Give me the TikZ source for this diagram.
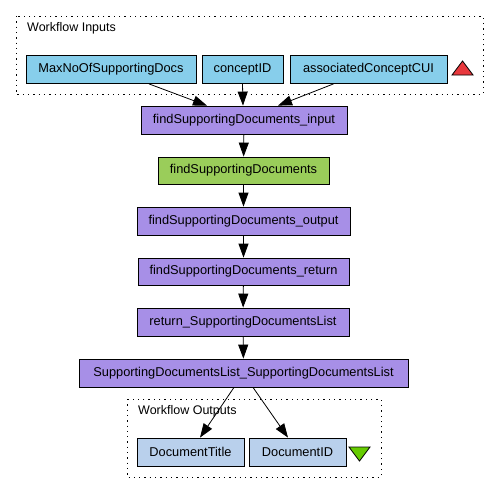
\documentclass[tikz,border=0pt]{standalone}
\usepackage{fontspec}
\setmainfont{Liberation Sans}
\usetikzlibrary{arrows.meta}
\definecolor{inblue}{HTML}{87CEEB}
\definecolor{outblue}{HTML}{B9D0EC}
\definecolor{procpurple}{HTML}{A78FE7}
\definecolor{procgreen}{HTML}{9ACD5A}
\definecolor{trired}{HTML}{E8383D}
\definecolor{trigreen}{HTML}{66CC00}
\tikzset{
  box/.style={draw=black, line width=0.8pt, minimum height=28pt, inner sep=0pt,
    font=\fontsize{12.8}{15}\selectfont, text=black},
  inbox/.style={box, fill=inblue},
  outbox/.style={box, fill=outblue},
  pbox/.style={box, fill=procpurple},
  gbox/.style={box, fill=procgreen},
  grp/.style={draw=black, line width=1pt, dash pattern=on 1.3pt off 4pt},
  conn/.style={line width=0.8pt, -{Triangle[length=14pt,width=10pt]}},
  lbl/.style={font=\fontsize{12.5}{15}\selectfont, anchor=west, inner sep=0pt}
}
\begin{document}
\begin{tikzpicture}[x=1pt,y=-1pt]
\useasboundingbox (0,0) rectangle (499,493);
\fill[white] (0,0) rectangle (499,493);
% groups
\draw[grp] (16,16) rectangle (483,94);
\node[lbl] (inlbl) at (27,28.5) {Workflow Inputs};
\draw[grp] (127,399) rectangle (381,477);
\node[lbl] (outlbl) at (138,411.5) {Workflow Outputs};
% inputs
\node[inbox, minimum width=170pt] (maxno) at (111,69.5) {MaxNoOfSupportingDocs};
\node[inbox, minimum width=81pt] (cid) at (242.5,69.5) {conceptID};
\node[inbox, minimum width=157pt] (acc) at (368.5,69.5) {associatedConceptCUI};
\draw[line width=0.8pt, fill=trired] (452,75) -- (473,75) -- (462.5,61) -- cycle;
% processors
\node[pbox, minimum width=206pt] (inp) at (244,120) {findSupportingDocuments\_input};
\node[gbox, minimum width=171pt, minimum height=27pt] (fsd) at (243.5,170.5) {findSupportingDocuments};
\node[pbox, minimum width=213pt] (outp) at (243.5,221) {findSupportingDocuments\_output};
\node[pbox, minimum width=211pt, minimum height=27pt] (ret) at (243.5,271.5) {findSupportingDocuments\_return};
\node[pbox, minimum width=212pt] (rsdl) at (243,322) {return\_SupportingDocumentsList};
\node[pbox, minimum width=329pt] (sdl) at (243.5,373) {SupportingDocumentsList\_SupportingDocumentsList};
% outputs
\node[outbox, minimum width=107pt] (dtitle) at (190.5,452) {DocumentTitle};
\node[outbox, minimum width=97pt] (did) at (297.5,452) {DocumentID};
\draw[line width=0.8pt, fill=trigreen] (349,447) -- (370,447) -- (359.5,461) -- cycle;
% connectors
\draw[conn] ([xshift=38pt]maxno.south) -- ([xshift=-37pt]inp.north);
\draw[conn] (cid.south) -- ([xshift=-1pt]inp.north);
\draw[conn] ([xshift=-35pt]acc.south) -- ([xshift=34pt]inp.north);
\draw[conn] (inp) -- (fsd);
\draw[conn] (fsd) -- (outp);
\draw[conn] (outp) -- (ret);
\draw[conn] (ret) -- (rsdl);
\draw[conn] (rsdl) -- (sdl);
\draw[conn] ([xshift=-9.5pt]sdl.south) -- ([xshift=9.5pt]dtitle.north);
\draw[conn] ([xshift=9.5pt]sdl.south) -- ([xshift=-9.5pt]did.north);
\end{tikzpicture}
\end{document}
